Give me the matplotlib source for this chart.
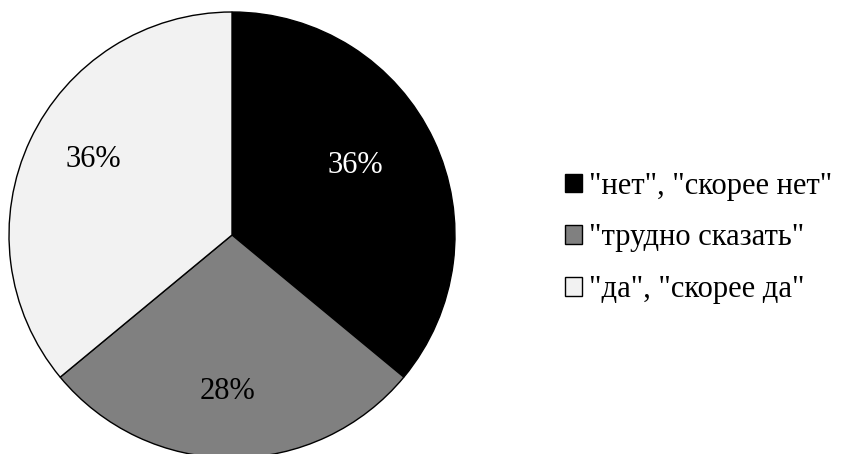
import numpy as np
import matplotlib
matplotlib.use("Agg")
import matplotlib.pyplot as plt

plt.rcParams["font.family"] = ["Liberation Serif", "DejaVu Serif"]

LABELS = ['"нет", "скорее нет"', '"трудно сказать"', '"да", "скорее да"']
SHARES = [36, 28, 36]
COLORS = ["#000000", "#808080", "#f2f2f2"]
TEXT_COLORS = ["white", "black", "black"]
# radial position and angular nudge (deg) of each percentage label
LABEL_R = [0.64, 0.69, 0.71]
LABEL_NUDGE = [5.0, -1.5, -4.0]

fig = plt.figure(figsize=(8.45, 4.54), dpi=100)
W, H = 845, 454
cx, cy, r = 232, 235, 223
ax = fig.add_axes([(cx - r) / W, (H - cy - r) / H, 2 * r / W, 2 * r / H])

wedges, _ = ax.pie(SHARES, colors=COLORS, startangle=90, counterclock=False,
                   wedgeprops=dict(edgecolor="black", linewidth=1.0))
for w, v, c, lr, dn in zip(wedges, SHARES, TEXT_COLORS, LABEL_R, LABEL_NUDGE):
    ang = np.deg2rad((w.theta1 + w.theta2) / 2 + dn)
    ax.text(lr * np.cos(ang), lr * np.sin(ang) - 0.01, f"{v}%", color=c, fontsize=22,
            ha="center", va="center")
ax.set_xlim(-1, 1)
ax.set_ylim(-1, 1)
ax.set_aspect("auto")

fig.legend(wedges, LABELS, loc="center left", bbox_to_anchor=(565 / W, 1 - 238 / H),
           frameon=False, fontsize=22, handlelength=0.55, handleheight=0.55,
           handletextpad=0.24, labelspacing=0.75, borderpad=0, borderaxespad=0)

fig.savefig("out.png", dpi=100)
